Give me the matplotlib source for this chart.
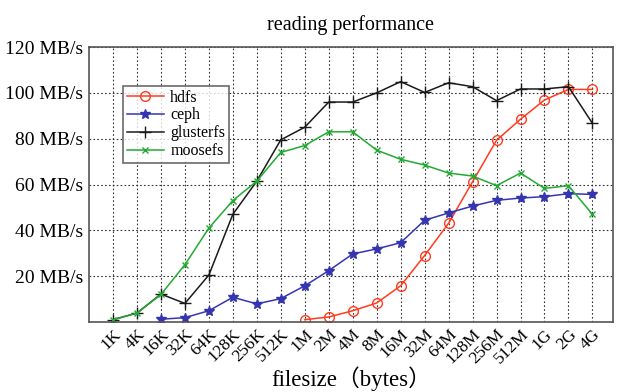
import numpy as np
import matplotlib.pyplot as plt

plt.rcParams['font.family'] = ['Liberation Serif', 'Noto Sans CJK SC', 'DejaVu Sans']

sizes = ['1K', '4K', '16K', '32K', '64K', '128K', '256K', '512K', '1M', '2M', '4M',
         '8M', '16M', '32M', '64M', '128M', '256M', '512M', '1G', '2G', '4G']

# throughput in MB/s, None where a system was not measured
hdfs = [None] * 8 + [1.0, 2.2, 4.9, 8.3, 15.8, 29.0, 43.1, 61.2, 79.3, 88.5, 96.9, 101.5, 101.5]
ceph = [None, None, 1.2, 1.9, 4.9, 10.8, 7.9, 10.2, 15.8, 22.4, 29.7, 31.9, 34.6, 44.4,
        47.6, 50.6, 53.1, 54.1, 54.7, 56.0, 55.7]
glusterfs = [1.0, 3.9, 12.2, 8.1, 20.5, 47.0, 61.5, 79.5, 85.0, 96.0, 96.0, 100.0, 104.9,
             100.2, 104.4, 102.7, 96.6, 101.7, 101.7, 102.7, 86.7]
moosefs = [1.0, 3.9, 12.0, 25.0, 41.0, 53.0, 61.5, 74.0, 77.0, 83.0, 83.0, 75.0, 71.0,
           68.5, 65.0, 63.7, 59.5, 65.0, 58.3, 59.5, 47.0]

def as_array(vals):
    return np.array([np.nan if v is None else v for v in vals], dtype=float)

x = np.arange(len(sizes))

fig = plt.figure(figsize=(6.19, 3.92), dpi=100)
ax = fig.add_axes([0.1438, 0.1786, 0.8462, 0.7014])

ax.plot(x, as_array(hdfs), color='#ff3b1f', marker='o', markerfacecolor='none',
        markersize=7, linewidth=1.1, label='hdfs')
ax.plot(x, as_array(ceph), color='#3535b0', marker='*', markersize=7,
        linewidth=1.1, label='ceph')
ax.plot(x, as_array(glusterfs), color='#1a1a1a', marker='+', markersize=8,
        linewidth=1.1, label='glusterfs')
ax.plot(x, as_array(moosefs), color='#22aa33', marker='x', markersize=5,
        linewidth=1.1, label='moosefs')

ax.set_xlim(-1, 20.85)
ax.set_ylim(0, 120)
ax.set_xticks(x)
ax.set_xticklabels(sizes, rotation=45, ha='right', rotation_mode='anchor', fontsize=12.5)
ax.set_yticks(np.arange(0, 121, 20))
ax.set_yticklabels([''] + [f'{v} MB/s' for v in range(20, 121, 20)], fontsize=14)
ax.tick_params(length=0, pad=4)
ax.tick_params(axis='x', pad=3)

ax.grid(True, linestyle=(0, (1.5, 2)), color='#333333', linewidth=0.8)
for sp in ax.spines.values():
    sp.set_color('#555555')
    sp.set_linewidth(1.2)

ax.set_title('reading performance', fontsize=14.5, pad=12)
fig.text(0.567, 0.035, 'filesize（bytes）', fontsize=16.5, ha='center', va='center')

leg = ax.legend(loc='upper left', bbox_to_anchor=(0.065, 0.86), fontsize=11.5,
                frameon=True, fancybox=False, borderpad=0.25, labelspacing=0.12,
                handlelength=2.3, handletextpad=0.4, borderaxespad=0)
leg.get_frame().set_edgecolor('#444444')
leg.get_frame().set_linewidth(1.2)

fig.savefig('out.png', dpi=100)
